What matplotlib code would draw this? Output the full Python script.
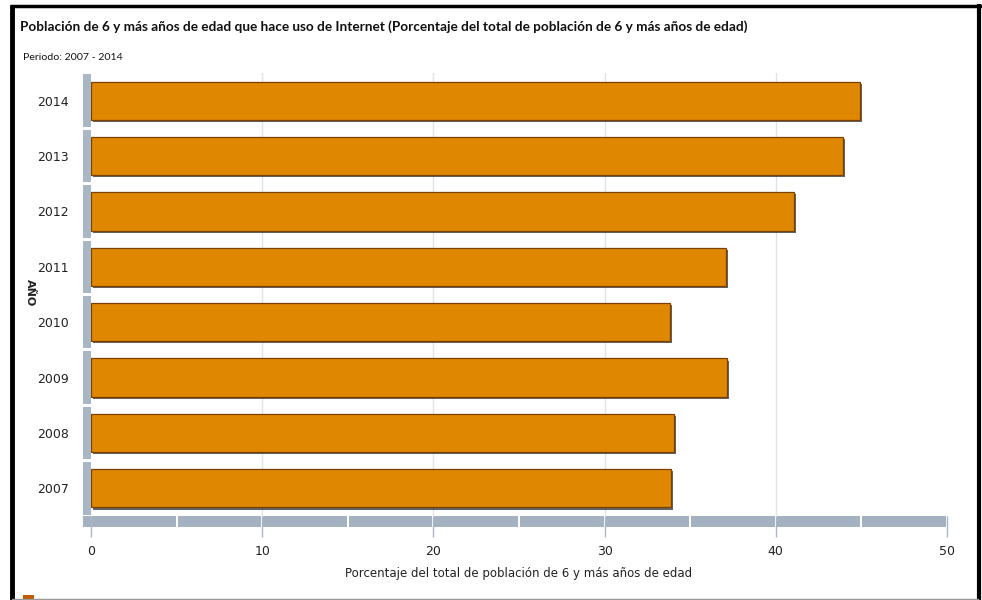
import numpy as np
import matplotlib
matplotlib.use('Agg')
import matplotlib.pyplot as plt
import matplotlib.patheffects as pe
from matplotlib.patches import Rectangle
from matplotlib.lines import Line2D

# data
years = ['2007', '2008', '2009', '2010', '2011', '2012', '2013', '2014']
pct = [33.9, 34.05, 37.15, 33.8, 37.1, 41.05, 43.9, 44.9]
xticks = [0, 10, 20, 30, 40, 50]

title = 'Población de 6 y más años de edad que hace uso de Internet (Porcentaje del total de población de 6 y más años de edad)'
subtitle = 'Periodo: 2007 - 2014'
xlabel = 'Porcentaje del total de población de 6 y más años de edad'
ylabel = 'AÑO'

W, H = 982, 600
fig = plt.figure(figsize=(W / 100, H / 100), dpi=100)
fig.patch.set_facecolor('white')

# plot area in pixels: x 91..947, y 73..516
ax = fig.add_axes([91 / W, 1 - 516 / H, (947 - 91) / W, (516 - 73) / H])
ax.set_xlim(0, 50)
ax.set_ylim(-0.5, len(years) - 0.5)
for s in ax.spines.values():
    s.set_visible(False)

for g in xticks[1:-1]:
    ax.axvline(g, color='#e2e2e2', linewidth=1, zorder=0)

bars = ax.barh(range(len(years)), pct, height=0.69, color='#e08700',
               edgecolor='#7a4000', linewidth=0.9, zorder=2)
for b in bars:
    b.set_path_effects([pe.SimplePatchShadow(offset=(1.5, -1.5), shadow_rgbFace='#222222', alpha=0.7),
                        pe.Normal()])

# left category strip
sw = 8 / (947 - 91)
ytr = ax.get_yaxis_transform()
for i in range(len(years)):
    ax.add_patch(Rectangle((-sw, i - 0.5 + 0.025), sw, 0.95, transform=ytr,
                           facecolor='#a9b6c4', edgecolor='none', clip_on=False, zorder=3))

# bottom value strip
sh = 11 / (516 - 73)
xtr = ax.get_xaxis_transform()
for v in np.arange(0, 50, 5):
    ax.add_patch(Rectangle((v + 0.06, -sh), 5 - 0.12, sh, transform=xtr,
                           facecolor='#a3b1c0', edgecolor='none', clip_on=False, zorder=3))
ax.add_patch(Rectangle((-sw, -sh), sw, sh, transform=ax.transAxes,
                       facecolor='#a3b1c0', edgecolor='none', clip_on=False, zorder=3))

ax.set_yticks(range(len(years)))
ax.set_yticklabels(years, fontsize=9, color='#222222')
ax.tick_params(axis='y', length=0, pad=16)
ax.set_xticks(xticks)
ax.set_xticklabels([str(t) for t in xticks], fontsize=9, color='#222222')
ax.tick_params(axis='x', length=15, width=1, color='#a9b6c4', pad=6)

ax.set_xlabel(xlabel, fontsize=8.5, color='#222222', labelpad=6)

fig.text(30 / W, 1 - 293 / H, ylabel, rotation=-90, fontsize=8, fontweight='bold',
         ha='center', va='center', color='#222222')

t1 = fig.text(20 / W, 1 - 27 / H, title, fontsize=10.5, fontweight='bold',
              family=['Lato', 'DejaVu Sans'], ha='left', va='center', color='#111111')
t2 = fig.text(23 / W, 1 - 57 / H, subtitle, fontsize=7.5,
              family=['Lato', 'DejaVu Sans'], ha='left', va='center', color='#111111')

# fit the narrow header texts to the widths seen in the reference
r = fig.canvas.get_renderer()
for t, target in [(t1, 728), (t2, 98)]:
    w = t.get_window_extent(renderer=r).width
    t.set_fontsize(t.get_fontsize() * target / w)

# frame around the figure
fig.add_artist(Line2D([12 / W, 12 / W], [0, 1 - 5 / H], color='black', linewidth=3.5, solid_capstyle='butt'))
fig.add_artist(Line2D([10 / W, 982 / W], [1 - 5.5 / H, 1 - 5.5 / H], color='black', linewidth=2.5, solid_capstyle='butt'))
fig.add_artist(Line2D([979 / W, 979 / W], [0, 1 - 4 / H], color='black', linewidth=3, solid_capstyle='butt'))
fig.add_artist(Line2D([12 / W, 978 / W], [1.5 / H, 1.5 / H], color='#999999', linewidth=1))
fig.add_artist(Rectangle((23 / W, 0), 11 / W, 5 / H, transform=fig.transFigure,
                         facecolor='#c45a00', edgecolor='none'))

fig.savefig('out.png', dpi=100)
